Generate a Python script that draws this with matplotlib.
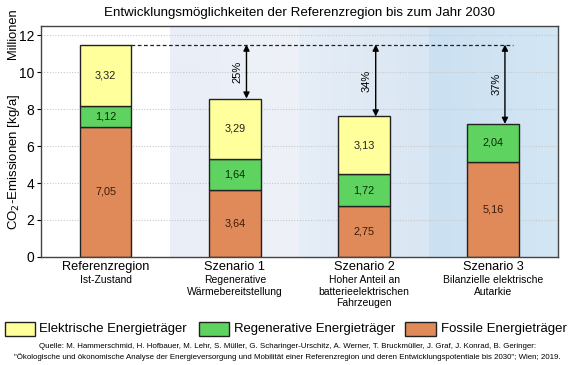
import matplotlib
matplotlib.use("Agg")
import matplotlib.pyplot as plt
import numpy as np
from matplotlib.patches import Rectangle
from matplotlib.colors import to_rgb
from matplotlib.transforms import blended_transform_factory

plt.rcParams['font.family'] = ['Liberation Sans', 'DejaVu Sans']

categories = ["Referenzregion", "Szenario 1", "Szenario 2", "Szenario 3"]
subtitles = ["Ist-Zustand", "Regenerative\nWärmebereitstellung",
             "Hoher Anteil an\nbatterieelektrischen\nFahrzeugen",
             "Bilanzielle elektrische\nAutarkie"]
fossil = [7.05, 3.64, 2.75, 5.16]
regenerative = [1.12, 1.64, 1.72, 2.04]
electric = [3.32, 3.29, 3.13, 0.0]
reductions = ["", "25%", "34%", "37%"]
series_names = ["Elektrische Energieträger", "Regenerative Energieträger", "Fossile Energieträger"]
yticks = [0, 2, 4, 6, 8, 10, 12]

c_el = "#ffff9c"
c_reg = "#5fd35f"
c_fos = "#e08a5a"
bg_grad = [("#e9eef7", "#eef2f8"), ("#e6eef7", "#d9e6f3"), ("#cbe0f1", "#d3e6f4")]

W, H = 575, 365
fig = plt.figure(figsize=(5.75, 3.65), dpi=100)
ax = fig.add_axes([0.0713, 0.296, 0.899, 0.633])

x = list(range(len(categories)))
for i, (c0, c1) in enumerate(bg_grad):
    a0, a1 = np.array(to_rgb(c0)), np.array(to_rgb(c1))
    t = np.linspace(0, 1, 64)[None, :, None]
    img = a0 + (a1 - a0) * t
    ax.imshow(img, extent=(i + 0.5, i + 1.5, 0, 12.5), aspect="auto", zorder=0,
              interpolation="bilinear")

w = 0.4
ax.bar(x, fossil, w, color=c_fos, edgecolor="#222222", lw=1, zorder=3)
ax.bar(x, regenerative, w, bottom=fossil, color=c_reg, edgecolor="#222222", lw=1, zorder=3)
bottom2 = [f + r for f, r in zip(fossil, regenerative)]
for i in x:
    if electric[i] > 0:
        ax.bar(i, electric[i], w, bottom=bottom2[i], color=c_el, edgecolor="#222222", lw=1, zorder=3)

for i in x:
    ax.text(i, fossil[i] / 2, f"{fossil[i]:.2f}".replace(".", ","), ha="center", va="center",
            fontsize=7.8, color="#3a1a08", zorder=5)
    ax.text(i, fossil[i] + regenerative[i] / 2, f"{regenerative[i]:.2f}".replace(".", ","),
            ha="center", va="center", fontsize=7.8, color="#0a2a0a", zorder=5)
    if electric[i] > 0:
        ax.text(i, bottom2[i] + electric[i] / 2, f"{electric[i]:.2f}".replace(".", ","),
                ha="center", va="center", fontsize=7.8, color="#222222", zorder=5)

totals = [b + e for b, e in zip(bottom2, electric)]
ref = totals[0]
ax.plot([w / 2, 3.15], [ref, ref], ls=(0, (3, 2)), color="#222222", lw=0.9, zorder=4)
for i in x[1:]:
    xa = i + 0.09
    ax.annotate("", xy=(xa, totals[i]), xytext=(xa, ref),
                arrowprops=dict(arrowstyle="<|-|>", color="black", lw=1,
                                mutation_scale=9, shrinkA=0, shrinkB=0), zorder=6)
    ax.text(xa - 0.068, (ref + totals[i]) / 2, reductions[i], rotation=90,
            ha="center", va="center", fontsize=8, zorder=6)

ax.set_xlim(-0.5, 3.5)
ax.set_ylim(0, 12.5)
ax.set_yticks(yticks)
ax.set_yticklabels([str(v) for v in yticks], fontsize=10)
ax.set_xticks([])
ax.yaxis.grid(True, ls=(0, (1, 1.5)), color="#c8c8c8", lw=0.8, zorder=1)
ax.set_axisbelow(True)
ax.tick_params(axis="y", length=3, width=0.8, direction="out", pad=2)
for s in ax.spines.values():
    s.set_color("#444444")
    s.set_linewidth(1)
    s.set_zorder(7)

ax.set_ylabel("CO$_2$-Emissionen [kg/a]", fontsize=9.5)
ax.yaxis.set_label_coords(-0.037, 0.41)
fig.text(13 / W, 1 - 34 / H, "Millionen", rotation=90, ha="center", va="center", fontsize=9.3)

trans = blended_transform_factory(ax.transData, fig.transFigure)
for i in x:
    ax.text(i, 1 - 267 / H, categories[i], transform=trans, ha="center", va="center", fontsize=9.2)
    ax.text(i, 1 - 275 / H, subtitles[i], transform=trans, ha="center", va="top",
            fontsize=7.5, linespacing=1.2)

fig.text(0.52, 1 - 13 / H, "Entwicklungsmöglichkeiten der Referenzregion bis zum Jahr 2030",
         ha="center", va="center", fontsize=9.6)

# Legend, drawn manually to match the reference layout
leg_patch_x = [(5, 35), (199, 229), (405, 436)]
leg_text_x = [(39, 188), (234, 396), (441, 568)]
leg_colors = [c_el, c_reg, c_fos]
leg_y0, leg_y1 = 322, 336
renderer = fig.canvas.get_renderer()
for (px0, px1), (tx0, tx1), col, name in zip(leg_patch_x, leg_text_x, leg_colors, series_names):
    fig.patches.append(Rectangle((px0 / W, 1 - leg_y1 / H), (px1 - px0) / W, (leg_y1 - leg_y0) / H,
                                 transform=fig.transFigure, facecolor=col, edgecolor="#222222",
                                 lw=1, figure=fig))
    txt = fig.text(tx0 / W, 1 - (leg_y0 + leg_y1) / 2 / H, name, ha="left", va="center", fontsize=10)
    bw = txt.get_window_extent(renderer).width
    txt.set_fontsize(10 * (tx1 - tx0) / bw)

fig.text(0.5, 1 - 347 / H,
         "Quelle: M. Hammerschmid, H. Hofbauer, M. Lehr, S. Müller, G. Scharinger-Urschitz, A. Werner, T. Bruckmüller, J. Graf, J. Konrad, B. Geringer:",
         ha="center", va="center", fontsize=5.7)
fig.text(0.5, 1 - 357 / H,
         "\"Ökologische und ökonomische Analyse der Energieversorgung und Mobilität einer Referenzregion und deren Entwicklungspotentiale bis 2030\"; Wien; 2019.",
         ha="center", va="center", fontsize=5.7)

fig.savefig("out.png", dpi=100)
